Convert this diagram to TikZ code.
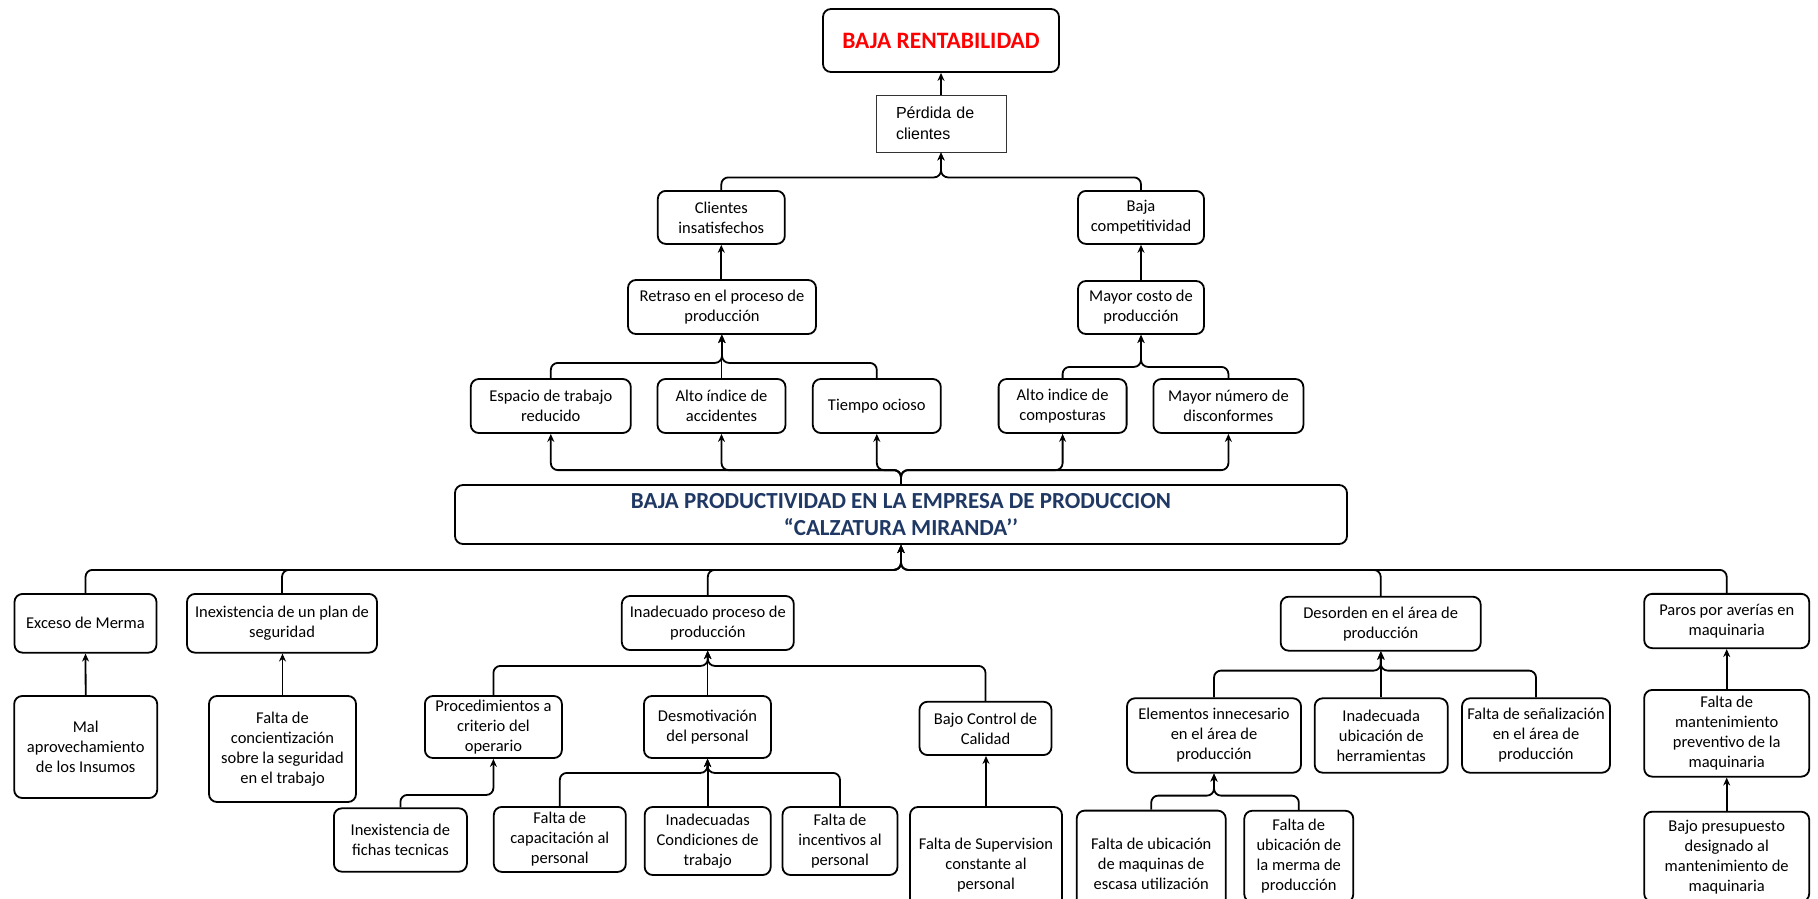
\documentclass[tikz,border=0pt]{standalone}
\usepackage{fontspec}
\setmainfont{Carlito}
\newfontfamily\arialf{Liberation Sans}
\usetikzlibrary{arrows.meta}
\definecolor{navy}{HTML}{1F3864}
\tikzset{
  box/.style={draw=black, line width=1.8pt, rounded corners=8pt, align=center, inner sep=2pt,
    font=\fontsize{16.5}{20}\selectfont},
  sz/.style 2 args={minimum width=#1pt, minimum height=#2pt},
  conn/.style={draw=black, line width=1.8pt, rounded corners=7pt, -{Stealth[length=8pt,width=7pt]}},
}
\begin{document}
\begin{tikzpicture}[x=1pt,y=-1pt]
\useasboundingbox (0,0) rectangle (1818,899);
\clip (0,0) rectangle (1818,899);
\fill[white] (0,0) rectangle (1818,899);

% top
\node[box, sz={236}{63}, text=red, font=\fontsize{23.5}{28}\selectfont\bfseries] (rent) at (941,40.5) {BAJA RENTABILIDAD};
\node[draw=black!80, line width=0.8pt, sz={130}{57}, text width=90pt, align=left, inner sep=0pt,
      font=\arialf\fontsize{16}{21}\selectfont] (perd) at (941,123.5) {Pérdida de\\clientes};
\node[box, sz={127}{53}] (cli) at (721.3,217.4) {Clientes\\insatisfechos};
\node[box, sz={126}{53}] (bcomp) at (1141,217.4) {Baja\\competitividad};
\node[box, sz={188}{54}] (retr) at (722,307) {Retraso en el proceso de\\producción};
\node[box, sz={126}{53}] (mcost) at (1141,307.5) {Mayor costo de\\producción};
\node[box, sz={160}{54}] (esp) at (550.8,406) {Espacio de trabajo\\reducido};
\node[box, sz={128}{54}] (alto) at (721.5,406) {Alto índice de\\accidentes};
\node[box, sz={128}{54}] (tiem) at (876.8,406) {Tiempo ocioso};
\node[box, sz={128}{54}] (comp) at (1062.6,406) {Alto indice de\\composturas};
\node[box, sz={150}{54}] (mnum) at (1228.4,406) {Mayor número de\\disconformes};

% central
\node[box, sz={892}{59}, text=navy, font=\fontsize{23}{27}\selectfont\bfseries] (cent) at (901,514.5)
  {BAJA PRODUCTIVIDAD EN LA EMPRESA DE PRODUCCION\\“CALZATURA MIRANDA’’};

% bottom level 1
\node[box, sz={142}{58.7}] (exc) at (85.5,623.3) {Exceso de Merma};
\node[box, sz={190}{58.7}] (plan) at (282,623.3) {Inexistencia de un plan de\\seguridad};
\node[box, sz={172}{54}] (inad) at (707.8,623) {Inadecuado proceso de\\producción};
\node[box, sz={200}{54}] (deso) at (1380.7,623.7) {Desorden en el área de\\producción};
\node[box, sz={165}{54.3}] (paros) at (1726.7,621) {Paros por averías en\\maquinaria};

% bottom level 2
\node[box, sz={143}{102}] (mal) at (85.7,747) {Mal\\aprovechamiento\\de los Insumos};
\node[box, sz={147}{106}] (conc) at (282.5,749) {Falta de\\concientización\\sobre la seguridad\\en el trabajo};
\node[box, sz={137}{62}] (proc) at (493.4,727) {Procedimientos a\\criterio del\\operario};
\node[box, sz={127}{62}] (desm) at (707.5,727) {Desmotivación\\del personal};
\node[box, sz={132}{53.3}] (bctrl) at (985.5,728.4) {Bajo Control de\\Calidad};
\node[box, sz={174}{74.4}] (elem) at (1214,735.5) {Elementos innecesario\\en el área de\\producción};
\node[box, sz={133}{74.4}] (iubic) at (1381.2,735.5) {Inadecuada\\ubicación de\\herramientas};
\node[box, sz={148}{74.4}] (fsen) at (1536,735.5) {Falta de señalización\\en el área de\\producción};
\node[box, sz={165}{86.7}] (fmant) at (1726.7,733.3) {Falta de\\mantenimiento\\preventivo de la\\maquinaria};

% bottom level 3
\node[box, sz={133}{63.4}] (fich) at (400.4,840) {Inexistencia de\\fichas tecnicas};
\node[box, sz={132}{65}] (fcap) at (559.8,839.4) {Falta de\\capacitación al\\personal};
\node[box, sz={126}{68}] (inadc) at (707.7,841) {Inadecuadas\\Condiciones de\\trabajo};
\node[box, sz={115}{68}] (finc) at (840,841) {Falta de\\incentivos al\\personal};
\node[box, sz={152}{116}] (fsup) at (986,865) {Falta de Supervision\\constante al\\personal};
\node[box, sz={149}{106}] (fmaq) at (1151.2,863.6) {Falta de ubicación\\de maquinas de\\escasa utilización};
\node[box, sz={109}{91.5}] (fmer) at (1298.8,856.5) {Falta de\\ubicación de\\la merma de\\producción};
\node[box, sz={165}{90}] (bpres) at (1726.7,856.7) {Bajo presupuesto\\designado al\\mantenimiento de\\maquinaria};

% connectors: top
\draw[conn] (perd.north) -- (rent.south);
\draw[conn] (cli.north) |- ([yshift=-25pt]perd.south) -- (perd.south);
\draw[conn] (bcomp.north) |- ([yshift=-25pt]perd.south) -- (perd.south);
\draw[conn] (retr.north -| cli.south) -- (cli.south);
\draw[conn] (mcost.north) -- (bcomp.south);
\draw[conn] (esp.north) |- ([yshift=-28pt]retr.south) -- (retr.south);
\draw[conn] (alto.north) -- (alto.north |- retr.south);
\draw[conn] (tiem.north) |- ([yshift=-28pt]retr.south) -- (retr.south);
\draw[conn] (comp.north) |- ([yshift=-32pt]mcost.south) -- (mcost.south);
\draw[conn] (mnum.north) |- ([yshift=-32pt]mcost.south) -- (mcost.south);

% central to effects
\foreach \n in {esp,alto,tiem,comp,mnum}
  \draw[conn] (cent.north) -- ([yshift=14pt]cent.north) -| (\n.south);

% causes to central
\foreach \n in {exc,plan,inad,deso,paros}
  \draw[conn] (\n.north) |- ([yshift=-25pt]cent.south) -- (cent.south);

% subtrees
\draw[conn] (mal.north) -- (exc.south);
\draw[conn] (conc.north) -- (conc.north |- plan.south);
\draw[conn] (proc.north) |- ([yshift=-15pt]inad.south) -- (inad.south);
\draw[conn] (desm.north) -- (desm.north |- inad.south);
\draw[conn] (bctrl.north) |- ([yshift=-15pt]inad.south) -- (inad.south);
\draw[conn] (fich.north) |- ([yshift=-36pt]proc.south) -- (proc.south);
\draw[conn] (fcap.north) |- ([yshift=-14pt]desm.south) -- (desm.south);
\draw[conn] (inadc.north) -- (inadc.north |- desm.south);
\draw[conn] (finc.north) |- ([yshift=-14pt]desm.south) -- (desm.south);
\draw[conn] (fsup.north) -- (fsup.north |- bctrl.south);
\draw[conn] (elem.north) |- ([yshift=-19pt]deso.south) -- (deso.south);
\draw[conn] (iubic.north) -- (iubic.north |- deso.south);
\draw[conn] (fsen.north) |- ([yshift=-19pt]deso.south) -- (deso.south);
\draw[conn] (fmaq.north) |- ([yshift=-22pt]elem.south) -- (elem.south);
\draw[conn] (fmer.north) |- ([yshift=-22pt]elem.south) -- (elem.south);
\draw[conn] (fmant.north) -- (paros.south);
\draw[conn] (bpres.north) -- (fmant.south);
\end{tikzpicture}
\end{document}
